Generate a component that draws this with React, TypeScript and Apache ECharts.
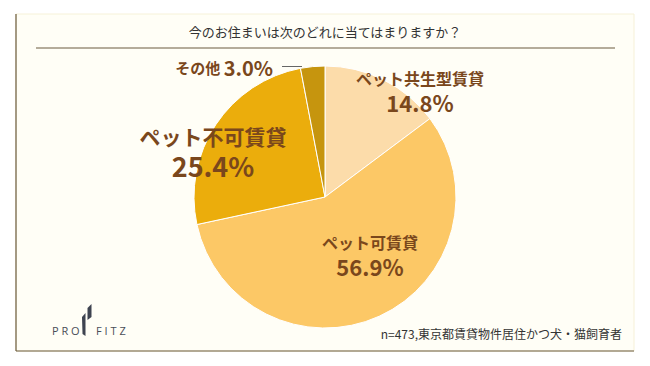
import React, { useEffect, useRef } from "react";
import * as echarts from "echarts";

const title = "今のお住まいは次のどれに当てはまりますか？";
const categories = ["ペット共生型賃貸", "ペット可賃貸", "ペット不可賃貸", "その他"];
const values = [14.8, 56.9, 25.4, 3.0];
const colors = ["#fcdcaa", "#fcc866", "#ebad0c", "#c6950e"];
const footnote = "n=473,東京都賃貸物件居住かつ犬・猫飼育者";

const FONT = "'Noto Sans CJK JP', 'Noto Sans', sans-serif";
const BROWN = "#7a471c";

export default function App() {
  const ref = useRef<HTMLDivElement>(null);
  useEffect(() => {
    document.body.style.margin = "0";
    const chart = echarts.init(ref.current!, null, { renderer: "svg" });
    const labelPos = [
      { x: 420, y: 90, align: "center" },
      { x: 370, y: 254, align: "center" },
      { x: 213, y: 151, align: "center" },
      { x: 273, y: 67, align: "right" },
    ];
    const rich = {
      n: { fontFamily: FONT, fontWeight: "bold", fontSize: 16, color: BROWN, lineHeight: 23, align: "center" },
      p: { fontFamily: FONT, fontWeight: "bold", fontSize: 22, color: BROWN, lineHeight: 25, align: "center" },
      n2: { fontFamily: FONT, fontWeight: "bold", fontSize: 21, color: BROWN, lineHeight: 29, align: "center" },
      p2: { fontFamily: FONT, fontWeight: "bold", fontSize: 27, color: BROWN, lineHeight: 31, align: "center" },
      n3: { fontFamily: FONT, fontWeight: "bold", fontSize: 15, color: BROWN },
      p3: { fontFamily: FONT, fontWeight: "bold", fontSize: 20, color: BROWN },
    };
    chart.setOption({
      animation: false,
      backgroundColor: "#ffffff",
      graphic: [
        { type: "rect", z: -10, shape: { x: 16, y: 14, width: 618, height: 337 }, style: { fill: "#fffef6", stroke: "#f6f1d8", lineWidth: 1 } },
        { type: "line", z: -5, shape: { x1: 16, y1: 14, x2: 16, y2: 351 }, style: { stroke: "#6b5b3e", lineWidth: 1.2 } },
        { type: "line", z: -5, shape: { x1: 16, y1: 351, x2: 634, y2: 351 }, style: { stroke: "#6b5b3e", lineWidth: 1.2 } },
        { type: "text", x: 325, y: 31, style: { text: title, fontFamily: FONT, fontSize: 13, fill: "#333333", align: "center", verticalAlign: "middle" } },
        { type: "line", shape: { x1: 36, y1: 48, x2: 615, y2: 48 }, style: { stroke: "#6b5b3e", lineWidth: 1 } },
        { type: "line", shape: { x1: 282, y1: 66.5, x2: 302, y2: 66.5 }, style: { stroke: "#666666", lineWidth: 1 } },
        { type: "text", x: 622, y: 333, style: { text: footnote, fontFamily: FONT, fontSize: 12, fill: "#333333", align: "right", verticalAlign: "middle" } },
        { type: "text", x: 52, y: 330, style: { text: "P R O", fontFamily: "'Open Sans', sans-serif", fontSize: 11, fill: "#4a4e58", verticalAlign: "middle", align: "left" } },
        { type: "text", x: 96, y: 330, style: { text: "F I T Z", fontFamily: "'Open Sans', sans-serif", fontSize: 11, fill: "#4a4e58", verticalAlign: "middle", align: "left" } },
        { type: "polygon", shape: { points: [[82, 317], [85.5, 313], [85.5, 336], [82.5, 334]] }, style: { fill: "#3e4350" } },
        { type: "polygon", shape: { points: [[87.5, 308], [91.5, 304], [91.5, 317], [87.5, 320]] }, style: { fill: "#3e4350" } },
      ],
      series: [
        {
          type: "pie",
          center: [325, 197],
          radius: [0, 131],
          startAngle: 90,
          clockwise: true,
          silent: true,
          itemStyle: { borderColor: "#ffffff", borderWidth: 1 },
          labelLine: { show: false },
          data: categories.map((name, i) => ({
            name,
            value: values[i],
            itemStyle: { color: colors[i] },
          })),
          label: {
            show: true,
            position: "inside",
            rich,
            formatter: (p: any) => {
              const v = Number(p.value).toFixed(1) + "%";
              if (p.dataIndex === 2) return `{n2|${p.name}}\n{p2|${v}}`;
              if (p.dataIndex === 3) return `{n3|${p.name} }{p3|${v}}`;
              return `{n|${p.name}}\n{p|${v}}`;
            },
          },
          labelLayout: (params: any) => {
            const l = labelPos[params.dataIndex];
            return { x: l.x, y: l.y, align: l.align, verticalAlign: "middle" };
          },
        },
      ],
    });
    return () => chart.dispose();
  }, []);
  return <div ref={ref} style={{ position: "fixed", left: 0, top: 0, width: 650, height: 366 }} />;
}
